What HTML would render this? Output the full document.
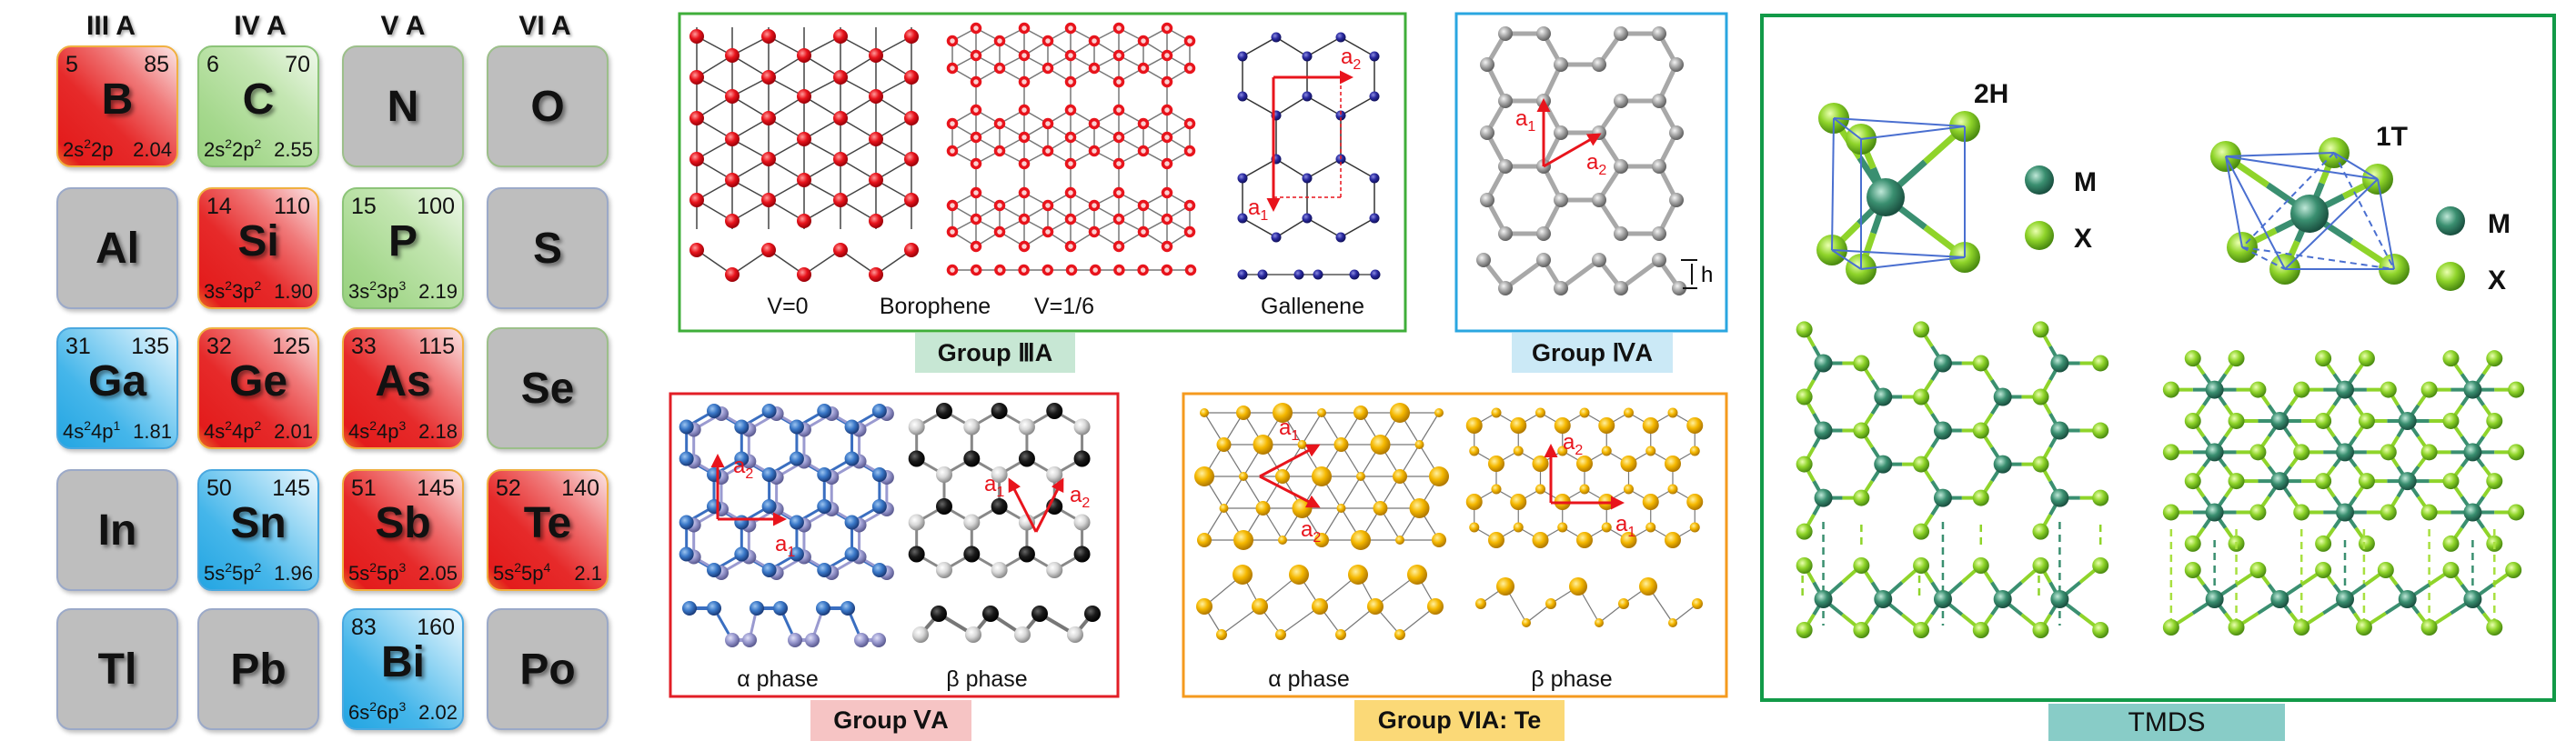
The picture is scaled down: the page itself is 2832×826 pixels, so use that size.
<!DOCTYPE html>
<html><head><meta charset="utf-8">
<style>
html,body{margin:0;padding:0;background:#fff;}
#root{position:relative;width:2832px;height:826px;overflow:hidden;font-family:"Liberation Sans",sans-serif;background:#fff;}
.hdr{position:absolute;top:12px;width:120px;text-align:center;font-weight:bold;font-size:30px;color:#111;text-shadow:2px 2px 3px rgba(0,0,0,.35);}
.cell{position:absolute;width:134px;height:134px;border-radius:16px;box-sizing:border-box;box-shadow:2px 3px 5px rgba(0,0,0,.25);}
.gray{background:#bebebe;border:2px solid #9ba9c8;}
.red{background:linear-gradient(225deg,#fbe6e6 0%,#f07a7a 30%,#e62a2a 60%,#e31c1c 90%,#e8702a 100%);border:2px solid #f0b040;}
.green{background:linear-gradient(225deg,#f0f9ec 0%,#c4e6b2 35%,#a5d88d 75%,#98d17e 100%);border:2px solid #8cc478;}
.blue{background:linear-gradient(225deg,#eef8fe 0%,#9fdaf5 30%,#45b6ea 65%,#23a5e2 100%);border:2px solid #4aa8e0;}
.sym{position:absolute;left:0;right:0;text-align:center;font-weight:bold;font-size:48px;color:#111;text-shadow:3px 3px 4px rgba(0,0,0,.45);}
.gray .sym{top:38px;}
.num{position:absolute;top:5px;font-size:25px;color:#111;}
.num.l{left:8px}.num.r{right:8px}
.sym.c{top:30px;}
.cfg{position:absolute;bottom:4px;left:5px;right:5px;display:flex;justify-content:space-between;font-size:22px;color:#111;white-space:nowrap;}
.cfg sup{font-size:14px;vertical-align:9px;line-height:0}
.lbl{position:absolute;text-align:center;font-weight:bold;font-size:27px;color:#111;box-sizing:border-box;}
svg{position:absolute;left:0;top:0;}
</style></head><body>
<div id="root">
<div class="hdr" style="left:62px">III A</div>
<div class="hdr" style="left:226px">IV A</div>
<div class="hdr" style="left:383px">V A</div>
<div class="hdr" style="left:539px">VI A</div>

<div class="cell red" style="left:62px;top:50px"><span class="num l">5</span><span class="num r">85</span><div class="sym c">B</div><div class="cfg"><span>2s<sup>2</sup>2p</span><span>2.04</span></div></div>
<div class="cell green" style="left:217px;top:50px"><span class="num l">6</span><span class="num r">70</span><div class="sym c">C</div><div class="cfg"><span>2s<sup>2</sup>2p<sup>2</sup></span><span>2.55</span></div></div>
<div class="cell gray" style="left:376px;top:50px;border-color:#9cbf8a"><div class="sym">N</div></div>
<div class="cell gray" style="left:535px;top:50px;border-color:#9cbf8a"><div class="sym">O</div></div>

<div class="cell gray" style="left:62px;top:206px"><div class="sym">Al</div></div>
<div class="cell red" style="left:217px;top:206px"><span class="num l">14</span><span class="num r">110</span><div class="sym c">Si</div><div class="cfg"><span>3s<sup>2</sup>3p<sup>2</sup></span><span>1.90</span></div></div>
<div class="cell green" style="left:376px;top:206px"><span class="num l">15</span><span class="num r">100</span><div class="sym c">P</div><div class="cfg"><span>3s<sup>2</sup>3p<sup>3</sup></span><span>2.19</span></div></div>
<div class="cell gray" style="left:535px;top:206px"><div class="sym">S</div></div>

<div class="cell blue" style="left:62px;top:360px"><span class="num l">31</span><span class="num r">135</span><div class="sym c">Ga</div><div class="cfg"><span>4s<sup>2</sup>4p<sup>1</sup></span><span>1.81</span></div></div>
<div class="cell red" style="left:217px;top:360px"><span class="num l">32</span><span class="num r">125</span><div class="sym c">Ge</div><div class="cfg"><span>4s<sup>2</sup>4p<sup>2</sup></span><span>2.01</span></div></div>
<div class="cell red" style="left:376px;top:360px"><span class="num l">33</span><span class="num r">115</span><div class="sym c">As</div><div class="cfg"><span>4s<sup>2</sup>4p<sup>3</sup></span><span>2.18</span></div></div>
<div class="cell gray" style="left:535px;top:360px;border-color:#9cbf8a"><div class="sym">Se</div></div>

<div class="cell gray" style="left:62px;top:516px"><div class="sym">In</div></div>
<div class="cell blue" style="left:217px;top:516px"><span class="num l">50</span><span class="num r">145</span><div class="sym c">Sn</div><div class="cfg"><span>5s<sup>2</sup>5p<sup>2</sup></span><span>1.96</span></div></div>
<div class="cell red" style="left:376px;top:516px"><span class="num l">51</span><span class="num r">145</span><div class="sym c">Sb</div><div class="cfg"><span>5s<sup>2</sup>5p<sup>3</sup></span><span>2.05</span></div></div>
<div class="cell red" style="left:535px;top:516px"><span class="num l">52</span><span class="num r">140</span><div class="sym c">Te</div><div class="cfg"><span>5s<sup>2</sup>5p<sup>4</sup></span><span>2.1</span></div></div>

<div class="cell gray" style="left:62px;top:669px"><div class="sym">Tl</div></div>
<div class="cell gray" style="left:217px;top:669px"><div class="sym">Pb</div></div>
<div class="cell blue" style="left:376px;top:669px"><span class="num l">83</span><span class="num r">160</span><div class="sym c">Bi</div><div class="cfg"><span>6s<sup>2</sup>6p<sup>3</sup></span><span>2.02</span></div></div>
<div class="cell gray" style="left:535px;top:669px"><div class="sym">Po</div></div>

<svg id="fig" width="2832" height="826" viewBox="0 0 2832 826">
<defs id="defs">
<marker id="ah" viewBox="0 0 10 10" refX="8" refY="5" markerWidth="5" markerHeight="5" orient="auto"><path d="M0,0L10,5L0,10z" fill="#e8141c"/></marker>
</defs>
<rect x="747" y="15" width="798" height="349" fill="none" stroke="#3fae3a" stroke-width="3"/>
<rect x="1601" y="15" width="297" height="349" fill="none" stroke="#2aa6e0" stroke-width="3"/>
<rect x="737" y="433" width="492" height="333" fill="none" stroke="#e21e26" stroke-width="3"/>
<rect x="1301" y="433" width="597" height="333" fill="none" stroke="#f59a1e" stroke-width="3"/>
<rect x="1937" y="17" width="871" height="753" fill="none" stroke="#129a48" stroke-width="4"/>
<g font-family="Liberation Sans, sans-serif" font-size="25" fill="#111" text-anchor="middle">
<text x="866" y="345">V=0</text>
<text x="1028" y="345">Borophene</text>
<text x="1170" y="345">V=1/6</text>
<text x="1443" y="345">Gallenene</text>
<text x="855" y="755">α phase</text>
<text x="1085" y="755">β phase</text>
<text x="1439" y="755">α phase</text>
<text x="1728" y="755">β phase</text>
</g>
<g font-family="Liberation Sans, sans-serif" font-size="30" font-weight="bold" fill="#111">
<text x="2170" y="113">2H</text>
<text x="2612" y="160">1T</text>
<text x="2280" y="210">M</text>
<text x="2280" y="272">X</text>
<text x="2735" y="256">M</text>
<text x="2735" y="318">X</text>
</g>
<g id="mols"></g>
</svg>

<div class="lbl" style="left:1006px;top:366px;width:176px;height:44px;line-height:44px;background:#c7e7d4">Group ⅢA</div>
<div class="lbl" style="left:1662px;top:366px;width:177px;height:44px;line-height:44px;background:#cbe9f6">Group ⅣA</div>
<div class="lbl" style="left:891px;top:770px;width:177px;height:45px;line-height:45px;background:#f6c4c4">Group ⅤA</div>
<div class="lbl" style="left:1489px;top:770px;width:231px;height:45px;line-height:45px;background:#fbd977">Group VIA: Te</div>
<div class="lbl" style="left:2252px;top:774px;width:260px;height:41px;line-height:41px;background:#88ccc7;font-weight:normal;font-size:30px">TMDS</div>
</div>
<script>
const NS='http://www.w3.org/2000/svg';
const G=document.getElementById('mols');
const D=document.getElementById('defs');
const COLORS={red:['#ff9a9a','#e8141c','#9a0008'],navy:['#8a8ae0','#2a2aa0','#10105a'],gray:['#f4f4f4','#a8a8a8','#606060'],
blue:['#9cc4f0','#3a78c8','#1a3a78'],lav:['#e0e0f6','#9a9ad0','#5a5a90'],black:['#666','#1a1a1a','#000'],white:['#fff','#d8d8d8','#8a8a8a'],
gold:['#fff0a0','#f5b800','#b07800'],teal:['#bfe8d8','#3a8f70','#1a5040'],lime:['#eaffb0','#8fd42a','#4a8a10']};
for(const k in COLORS){const g=document.createElementNS(NS,'radialGradient');g.setAttribute('id','g-'+k);g.setAttribute('cx','38%');g.setAttribute('cy','35%');g.setAttribute('r','65%');
COLORS[k].forEach((c,i)=>{const s=document.createElementNS(NS,'stop');s.setAttribute('offset',[0,0.5,1][i]);s.setAttribute('stop-color',c);g.appendChild(s);});D.appendChild(g);}
function mk(tag){const e=document.createElementNS(NS,tag);G.appendChild(e);return e;}
function atom(x,y,r,c){const e=mk('circle');e.setAttribute('cx',x);e.setAttribute('cy',y);e.setAttribute('r',r);e.setAttribute('fill','url(#g-'+c+')');

return e;}
function ring(x,y,r){const e=mk('circle');e.setAttribute('cx',x);e.setAttribute('cy',y);e.setAttribute('r',r-1.5);e.setAttribute('fill','#fbd0d0');e.setAttribute('stroke','#e8141c');e.setAttribute('stroke-width','3.5');

return e;}
function bond(x1,y1,x2,y2,col,w,dash){const e=mk('line');e.setAttribute('x1',x1);e.setAttribute('y1',y1);e.setAttribute('x2',x2);e.setAttribute('y2',y2);e.setAttribute('stroke',col);e.setAttribute('stroke-width',w);if(dash)e.setAttribute('stroke-dasharray',dash);

return e;}
function arrow(x1,y1,x2,y2){const e=bond(x1,y1,x2,y2,'#e8141c',3);e.setAttribute('marker-end','url(#ah)');
return e;}
function alab(x,y,n){const t=mk('text');t.setAttribute('x',x);t.setAttribute('y',y);t.setAttribute('fill','#e8141c');t.setAttribute('font-size','24');t.setAttribute('font-family','Liberation Sans, sans-serif');t.textContent='a';
const s=document.createElementNS(NS,'tspan');s.setAttribute('font-size','16');s.setAttribute('dy','6');s.textContent=n;t.appendChild(s);

}
function d(a,b){return Math.hypot(a.x-b.x,a.y-b.y);}
function honey(x0,y0,s,cols,rows){const w=s*Math.sqrt(3);const V=new Map(),E=new Map();
for(let r=0;r<rows;r++)for(let c=0;c<cols;c++){const cx=x0+c*w+(r%2)*w/2,cy=y0+r*1.5*s;const ids=[];
for(let k=0;k<6;k++){const a=(-90+60*k)*Math.PI/180;const x=cx+s*Math.cos(a),y=cy+s*Math.sin(a);const key=Math.round(x)+','+Math.round(y);
if(!V.has(key))V.set(key,{x,y,sub:k%2});ids.push(key);}
for(let k=0;k<6;k++){const a=ids[k],b=ids[(k+1)%6];const key=a<b?a+'|'+b:b+'|'+a;E.set(key,[V.get(a),V.get(b)]);}}
return {v:[...V.values()],e:[...E.values()]};}

// ===== Borophene V=0 =====
const bx=[766,805,845,884,924,963,1002];
const byEven=[40,85,130,175,220], byOdd=[61,106,153,198,243];
let B0=[];bx.forEach((x,j)=>(j%2?byOdd:byEven).forEach(y=>B0.push({x,y})));
bx.forEach(x=>bond(x,30,x,252,'#444',1.5));
for(let i=0;i<B0.length;i++)for(let k=i+1;k<B0.length;k++){const a=B0[i],b=B0[k];if(Math.abs(a.x-b.x)>1&&d(a,b)<48)bond(a.x,a.y,b.x,b.y,'#444',1.5);}
B0.forEach(p=>atom(p.x,p.y,8,'red'));
for(let j=0;j<bx.length-1;j++)bond(bx[j],j%2?302:275,bx[j+1],(j+1)%2?302:275,'#444',1.5);
bx.forEach((x,j)=>atom(x,j%2?302:275,8,'red'));

// ===== Borophene V=1/6 =====
const b6A=[1073,1126,1177,1230,1283], b6B=[1047,1099,1152,1203,1257,1308];
const b6bands=[[31,45,61,75,90],[121,136,151,166,180],[212,226,241,255,271]];
let B6=[];b6bands.forEach(band=>band.forEach((y,ri)=>(ri%2?b6B:b6A).forEach(x=>B6.push({x,y}))));
for(let i=0;i<B6.length;i++)for(let k=i+1;k<B6.length;k++){const a=B6[i],b=B6[k];if(d(a,b)<32.5)bond(a.x,a.y,b.x,b.y,'#777',1.5);}
B6.forEach(p=>ring(p.x,p.y,6));
bond(1047,297,1309,297,'#777',1.5);
for(let x=1047;x<=1310;x+=26.2)ring(x,297,6);

// ===== Gallenene =====
const gu=[41,175];const GA=[];
gu.forEach(y0=>{[[1403,y0],[1474,y0],[1366,y0+21],[1437,y0+21],[1511,y0+21],[1366,y0+65],[1437,y0+65],[1511,y0+65],[1403,y0+86],[1474,y0+86]].forEach(p=>GA.push({x:p[0],y:p[1]}));});
for(let i=0;i<GA.length;i++)for(let k=i+1;k<GA.length;k++){const a=GA[i],b=GA[k];const dd=d(a,b);
if((dd<46&&Math.abs(a.y-b.y)>5)||(Math.abs(a.x-b.x)<1&&dd<50))bond(a.x,a.y,b.x,b.y,'#333',1.5);}
GA.forEach(p=>atom(p.x,p.y,5.5,'navy'));
bond(1366,302,1512,302,'#555',1.5);
[1366,1388,1428,1449,1489,1512].forEach(x=>atom(x,302,5.5,'navy'));
arrow(1400,85,1485,85);arrow(1400,85,1400,230);
bond(1400,217,1474,217,'#e8141c',1.5,'4,3');bond(1474,217,1474,85,'#e8141c',1.5,'4,3');
alab(1474,70,2);alab(1372,236,1);

// ===== Group IVA =====
const ivx={a:[1655,1697,1782,1824],b:[1635,1716,1758,1843]};
const ivy=[37,71,111,146,183,220,257];
const IV=[];ivy.forEach((y,r)=>(r%2?ivx.b:ivx.a).forEach(x=>IV.push({x,y})));
for(let i=0;i<IV.length;i++)for(let k=i+1;k<IV.length;k++){const a=IV[i],b=IV[k];if(d(a,b)<45)bond(a.x,a.y,b.x,b.y,'#a8a8a8',5);}
IV.forEach(p=>atom(p.x,p.y,8,'gray'));
const ivU=[1631,1697,1758,1824],ivL=[1655,1716,1782,1846];
for(let i=0;i<4;i++){bond(ivU[i],286,ivL[i],317,'#a8a8a8',5);if(i<3)bond(ivL[i],317,ivU[i+1],286,'#a8a8a8',5);}
for(let i=0;i<4;i++){atom(ivU[i],286,8,'gray');atom(ivL[i],317,8,'gray');}
bond(1848,286,1866,286,'#111',2);bond(1850,317,1866,317,'#111',2);bond(1860,290,1860,313,'#111',2);
(function(){const t=mk('text');t.setAttribute('x','1870');t.setAttribute('y','310');t.setAttribute('font-size','24');t.setAttribute('font-family','Liberation Sans, sans-serif');t.textContent='h';

})();
arrow(1697,183,1697,111);arrow(1697,183,1758,148);alab(1666,138,1);alab(1744,186,2);

// ===== Group VA alpha =====
const HA=honey(785,487,35,4,3);
HA.e.forEach(([a,b])=>{if(a.x>752&&b.x>752&&a.x<978&&b.x<978){bond(a.x,a.y,b.x,b.y,'#3a6ec0',3);bond(a.x+8,a.y+3,b.x+8,b.y+3,'#9a9ad0',3);}});
HA.v.forEach(p=>{if(p.x>752&&p.x<978){atom(p.x+8,p.y+3,8,'lav');atom(p.x,p.y,8,'blue');}});
arrow(789,571,789,502);arrow(789,571,862,571);alab(806,520,2);alab(852,606,1);
const vaU=[758,785,832,858,905,932],vaL=[805,824,874,893,947,966];
for(let i=0;i<3;i++){bond(vaU[2*i],669,vaU[2*i+1],669,'#3a6ec0',4);bond(vaU[2*i+1],669,vaL[2*i],704,'#3a6ec0',3);bond(vaL[2*i],704,vaL[2*i+1],704,'#9a9ad0',4);if(i<2)bond(vaL[2*i+1],704,vaU[2*i+2],669,'#9a9ad0',3);}
vaL.forEach(x=>atom(x,704,8,'lav'));vaU.forEach(x=>atom(x,669,8,'blue'));

// ===== Group VA beta =====
const HB=honey(1038,487,35,3,3);
HB.e.forEach(([a,b])=>{if(a.x>1004&&b.x>1004&&a.x<1210&&b.x<1210)bond(a.x,a.y,b.x,b.y,'#888',3);});
HB.v.forEach(p=>{if(p.x>1004&&p.x<1210)atom(p.x,p.y,9,p.sub?'white':'black');});
arrow(1139,585,1110,528);arrow(1139,585,1168,528);alab(1082,540,1);alab(1176,552,2);
const vbU=[1032,1089,1143,1201],vbL=[1012,1070,1124,1182];
for(let i=0;i<4;i++){bond(vbL[i],698,vbU[i],675,'#777',4);if(i<3)bond(vbU[i],675,vbL[i+1],698,'#777',4);}
vbL.forEach(x=>atom(x,698,9,'white'));vbU.forEach(x=>atom(x,675,9,'black'));

// ===== Group VIA alpha =====
const TA=[];const tSizes=[5,8,11];
for(let r=0;r<5;r++)for(let j=0;j<7;j++){const x=1324+j*43+(r%2)*21.5;if(x>1584)continue;TA.push({x,y:454+r*35,s:tSizes[(j+r)%3]});}
for(let i=0;i<TA.length;i++)for(let k=i+1;k<TA.length;k++){const a=TA[i],b=TA[k];if(d(a,b)<44)bond(a.x,a.y,b.x,b.y,'#777',1.2);}
TA.forEach(p=>atom(p.x,p.y,p.s,'gold'));
arrow(1385,524,1449,490);arrow(1385,524,1449,557);alab(1406,478,1);alab(1430,590,2);
const tU=[1366,1428,1493,1558],tM=[1324,1385,1451,1512,1578],tL=[1343,1408,1474,1539];
for(let i=0;i<4;i++){bond(tM[i],667,tU[i],632,'#777',1.2);bond(tU[i],632,tM[i+1],667,'#777',1.2);bond(tM[i],667,tL[i],698,'#777',1.2);bond(tL[i],698,tM[i+1],667,'#777',1.2);}
tU.forEach(x=>atom(x,632,11,'gold'));tM.forEach(x=>atom(x,667,9,'gold'));tL.forEach(x=>atom(x,698,6,'gold'));

// ===== Group VIA beta =====
const HT=honey(1645,482,28,5,3);
HT.e.forEach(([a,b])=>{if(a.x>1615&&b.x>1615&&a.x<1875&&b.x<1875)bond(a.x,a.y,b.x,b.y,'#777',1.2);});
HT.v.forEach(p=>{if(p.x>1615&&p.x<1875)atom(p.x,p.y,p.sub?9:5.5,'gold');});
arrow(1705,553,1705,491);arrow(1705,553,1783,553);alab(1718,494,2);alab(1776,584,1);
const tbx=[1628,1655,1678,1705,1735,1758,1785,1812,1839,1866],tby=[664,645,685,664,645,685,664,645,685,664],tbs=[6,10,5,6,10,5,6,10,5,6];
for(let i=0;i<tbx.length-1;i++)bond(tbx[i],tby[i],tbx[i+1],tby[i+1],'#777',1.2);
tbx.forEach((x,i)=>atom(x,tby[i],tbs[i],'gold'));

// ===== TMDS =====
function tx(x){return 1900+x/1.674;} function ty(y){return y/1.89;}
function mxBond(m,x,w){const mx=(m.x+x.x)/2,my=(m.y+x.y)/2;bond(m.x,m.y,mx,my,'#3a8f70',w);bond(mx,my,x.x,x.y,'#8fd42a',w);}
const h2X=[[2016,130],[2046,153],[2160,139],[2014,275],[2046,296],[2160,283]].map(p=>({x:p[0],y:p[1]}));const h2M={x:2073,y:217};
h2X.forEach(x=>mxBond(h2M,x,7));
h2X.forEach(p=>atom(p.x,p.y,17,'lime'));atom(h2M.x,h2M.y,21,'teal');
[[0,1],[1,2],[2,0],[3,4],[4,5],[5,3],[0,3],[1,4],[2,5]].forEach(([a,b])=>bond(h2X[a].x,h2X[a].y,h2X[b].x,h2X[b].y,'#4a6fd0',2));
const t1X=[[2447,172],[2566,168],[2614,197],[2465,272],[2512,296],[2632,296]].map(p=>({x:p[0],y:p[1]}));const t1M={x:2539,y:235};
t1X.forEach(x=>mxBond(t1M,x,7));
t1X.forEach(p=>atom(p.x,p.y,17,'lime'));atom(t1M.x,t1M.y,21,'teal');
[[0,1],[1,2],[2,0],[0,3],[0,4],[2,4],[2,5],[4,5]].forEach(([a,b])=>bond(t1X[a].x,t1X[a].y,t1X[b].x,t1X[b].y,'#4a6fd0',2));
[[3,4],[3,5],[1,3],[1,5]].forEach(([a,b])=>bond(t1X[a].x,t1X[a].y,t1X[b].x,t1X[b].y,'#4a6fd0',2,'7,5'));
atom(2242,198,16,'teal');atom(2242,259,16,'lime');atom(2694,243,16,'teal');atom(2694,304,16,'lime');
const h2rows=[[685,[],[140,355,575]],[755,[175,395,610],[245,465,685]],[825,[285,505],[140,355,575]],[895,[175,395,610],[245,465,685]],[965,[285,505],[140,355,575]],[1035,[175,395,610],[245,465,685]],[1105,[],[140,355,575]]];
const TM=[],TX=[];h2rows.forEach(([y,ms,xs])=>{ms.forEach(x=>TM.push({x:tx(x),y:ty(y)}));xs.forEach(x=>TX.push({x:tx(x),y:ty(y)}));});
TM.forEach(m=>TX.forEach(x=>{if(d(m,x)<50)mxBond(m,x,4);}));
TX.forEach(p=>atom(p.x,p.y,9,'lime'));TM.forEach(p=>atom(p.x,p.y,10,'teal'));
const s2X=[140,245,355,465,575,685].map(tx),s2M=[175,285,395,505,610].map(tx);
[175,395,610].forEach(x=>bond(tx(x),574,tx(x),688,'#3a8f70',2.5,'8,6'));
[245,465,685].forEach(x=>bond(tx(x),577,tx(x),603,'#8fd42a',2.5,'8,6'));
[140,355,575].forEach(x=>bond(tx(x)-2,633,tx(x)-2,655,'#8fd42a',2.5,'8,6'));
s2M.forEach((m,i)=>{[s2X[i],s2X[i+1]].forEach(x=>{mxBond({x:m,y:659},{x,y:622},4);mxBond({x:m,y:659},{x,y:693},4);});});
s2X.forEach(x=>{atom(x,622,9,'lime');atom(x,693,9,'lime');});s2M.forEach(x=>atom(x,659,10,'teal'));
const xa=[855,935,1095,1175,1330,1410],xb=[815,975,1055,1215,1290,1450];
const t1rows=[[745,[],xa],[810,[895,1135,1370],xb],[875,[1015,1250],xa],[940,[895,1135,1370],xb],[1000,[1015,1250],xa],[1065,[895,1135,1370],xb],[1130,[],xa]];
const UM=[],UX=[];t1rows.forEach(([y,ms,xs])=>{ms.forEach(x=>UM.push({x:tx(x),y:ty(y)}));xs.forEach(x=>UX.push({x:tx(x),y:ty(y)}));});
UM.forEach(m=>UX.forEach(x=>{if(d(m,x)<52)mxBond(m,x,4);}));
UX.forEach(p=>atom(p.x,p.y,9,'lime'));UM.forEach(p=>atom(p.x,p.y,10,'teal'));
const u1=[855,975,1095,1210,1330,1445].map(tx),m1=[895,1015,1135,1250,1370].map(tx),l1=[815,935,1055,1170,1290,1410].map(tx);
l1.forEach(x=>bond(x,582,x,683,'#a8e040',2.5,'8,6'));
[895,1135,1370].forEach(x=>bond(tx(x),594,tx(x),650,'#3a8f70',2.5,'8,6'));
m1.forEach((m,i)=>{mxBond({x:m,y:659},{x:u1[i],y:627},4);mxBond({x:m,y:659},{x:u1[i+1],y:627},4);mxBond({x:m,y:659},{x:l1[i],y:690},4);mxBond({x:m,y:659},{x:l1[i+1],y:690},4);});
u1.forEach(x=>atom(x,627,9,'lime'));l1.forEach(x=>atom(x,690,9,'lime'));m1.forEach(x=>atom(x,659,10,'teal'));
</script>
</body></html>
